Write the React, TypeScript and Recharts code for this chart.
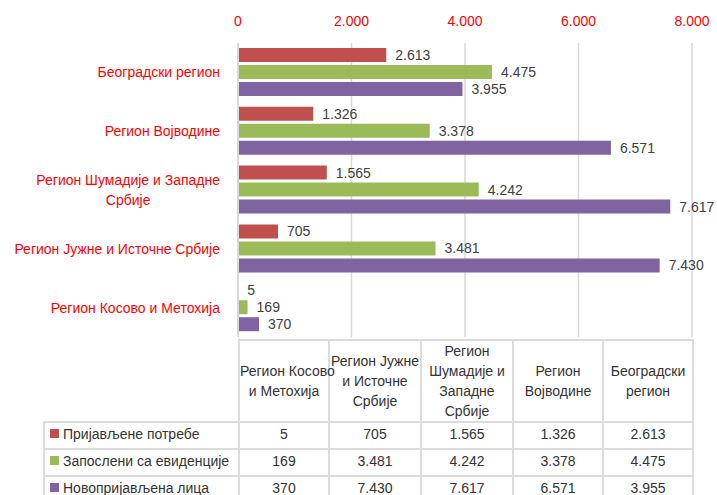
import React from 'react';
import { BarChart, Bar, XAxis, YAxis, CartesianGrid, LabelList } from 'recharts';

// categories in table order (bottom-to-top in the chart)
const regions = [
  'Регион Косово и Метохија',
  'Регион Јужне и Источне Србије',
  'Регион Шумадије и Западне Србије',
  'Регион Војводине',
  'Београдски регион',
];
const axisLabelLines = [
  ['Регион Косово и Метохија'],
  ['Регион Јужне и Источне Србије'],
  ['Регион Шумадије и Западне', 'Србије'],
  ['Регион Војводине'],
  ['Београдски регион'],
];
const tableHeaderLines = [
  ['Регион Косово', 'и Метохија'],
  ['Регион Јужне', 'и Источне', 'Србије'],
  ['Регион', 'Шумадије и', 'Западне', 'Србије'],
  ['Регион', 'Војводине'],
  ['Београдски', 'регион'],
];
const reported = [5, 705, 1565, 1326, 2613];
const employed = [169, 3481, 4242, 3378, 4475];
const newlyRegistered = [370, 7430, 7617, 6571, 3955];
const seriesNames = ['Пријављене потребе', 'Запослени са евиденције', 'Новопријављена лица'];
const seriesColors = ['#C0504D', '#9BBB59', '#8064A2'];
const xTicks = [0, 2000, 4000, 6000, 8000];

const seriesValues = [reported, employed, newlyRegistered];
const data = regions.map((name, i) => ({
  name,
  reported: reported[i],
  employed: employed[i],
  newlyRegistered: newlyRegistered[i],
}));
const seriesKeys = ['reported', 'employed', 'newlyRegistered'];

const FONT = '"Liberation Sans", Arial, sans-serif';
const fmt = (v: any) => String(v).replace(/\B(?=(\d{3})+(?!\d))/g, '.');

function measure(text: string) {
  const ctx = document.createElement('canvas').getContext('2d');
  if (!ctx) return text.length * 7;
  ctx.font = '14px "Liberation Sans"';
  return ctx.measureText(text).width;
}

const RegionTick = ({ x, y, payload }: any) => {
  const idx = regions.indexOf(payload.value);
  const lines = axisLabelLines[idx] ?? [payload.value];
  if (lines.length === 1) {
    return (
      <text x={x} y={y} dy={5} textAnchor="end" fill="#FF0000" fontSize={14} fontFamily={FONT}>
        {lines[0]}
      </text>
    );
  }
  const cx = x - measure(lines[0]) / 2;
  return (
    <text textAnchor="middle" fill="#FF0000" fontSize={14} fontFamily={FONT}>
      {lines.map((l, i) => (
        <tspan key={i} x={cx} y={y + (i - (lines.length - 1) / 2) * 20 + 5}>
          {l}
        </tspan>
      ))}
    </text>
  );
};

const border = '2px solid #DCDCDC';
const cellBase: React.CSSProperties = {
  border,
  padding: 0,
  textAlign: 'center',
  verticalAlign: 'middle',
  color: '#333333',
  fontSize: 14,
  lineHeight: '20px',
  whiteSpace: 'nowrap',
  overflow: 'visible',
};
const rowCell: React.CSSProperties = { ...cellBase, paddingBottom: 4 };

export default function App() {
  return (
    <div
      style={{
        position: 'absolute',
        left: 0,
        top: 0,
        width: 717,
        height: 495,
        background: '#fff',
        fontFamily: FONT,
        overflow: 'hidden',
      }}
    >
      <BarChart
        width={717}
        height={340}
        data={data}
        layout="vertical"
        margin={{ top: 13, right: 25, left: 0, bottom: 3 }}
        barCategoryGap={5}
        barGap={3}
      >
        <CartesianGrid horizontal={false} stroke="#D9D9D9" strokeWidth={1.5} />
        <XAxis
          type="number"
          orientation="top"
          domain={[0, 8000]}
          ticks={xTicks}
          tickFormatter={fmt}
          axisLine={false}
          tickLine={false}
          tickSize={0}
          tickMargin={17}
          height={30}
          tick={{ fill: '#FF0000', fontSize: 14, fontFamily: FONT }}
        />
        <YAxis
          type="category"
          dataKey="name"
          reversed
          width={238}
          axisLine={{ stroke: '#D9D9D9', strokeWidth: 2 }}
          tickLine={false}
          tickSize={0}
          tickMargin={18}
          tick={<RegionTick />}
          interval={0}
        />
        {seriesKeys.map((key, i) => (
          <Bar key={key} dataKey={key} name={seriesNames[i]} fill={seriesColors[i]} isAnimationActive={false}>
            <LabelList
              dataKey={key}
              position="right"
              offset={9}
              formatter={fmt}
              fill="#404040"
              fontSize={14}
              fontFamily={FONT}
            />
          </Bar>
        ))}
      </BarChart>
      <table
        style={{
          position: 'absolute',
          left: 43,
          top: 339,
          borderCollapse: 'collapse',
          tableLayout: 'fixed',
          width: 651,
          fontFamily: FONT,
        }}
      >
        <colgroup>
          <col style={{ width: 195 }} />
          <col style={{ width: 90 }} />
          <col style={{ width: 92 }} />
          <col style={{ width: 92 }} />
          <col style={{ width: 90 }} />
          <col style={{ width: 90 }} />
        </colgroup>
        <tbody>
          <tr style={{ height: 78 }}>
            <td style={{ ...cellBase, borderTop: 'none', borderLeft: 'none' }} />
            {tableHeaderLines.map((lines, i) => (
              <td key={i} style={cellBase}>
                {lines.map((l, j) => (
                  <div key={j}>{l}</div>
                ))}
              </td>
            ))}
          </tr>
          {seriesNames.map((sname, s) => (
            <tr key={sname} style={{ height: 27 }}>
              <td style={{ ...rowCell, textAlign: 'left', paddingLeft: 5 }}>
                <span
                  style={{
                    display: 'inline-block',
                    width: 9,
                    height: 9,
                    background: seriesColors[s],
                    marginRight: 4,
                    verticalAlign: 'middle',
                    position: 'relative',
                    top: -1,
                  }}
                />
                {sname}
              </td>
              {seriesValues[s].map((v, i) => (
                <td key={i} style={rowCell}>
                  {fmt(v)}
                </td>
              ))}
            </tr>
          ))}
        </tbody>
      </table>
    </div>
  );
}
